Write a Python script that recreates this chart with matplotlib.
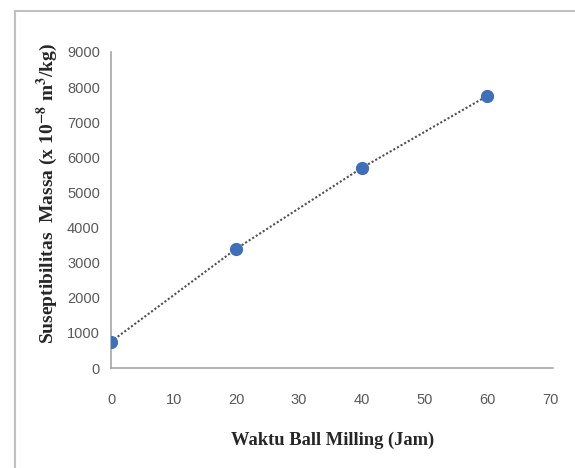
import matplotlib
matplotlib.use("Agg")
import matplotlib.pyplot as plt
from matplotlib.lines import Line2D

# data
waktu = [0, 20, 40, 60]                 # jam
suseptibilitas = [750, 3400, 5700, 7750]  # x 10^-8 m^3/kg
xticks = [0, 10, 20, 30, 40, 50, 60, 70]
yticks = [0, 1000, 2000, 3000, 4000, 5000, 6000, 7000, 8000, 9000]

plt.rcParams['mathtext.fontset'] = 'stix'
plt.rcParams['mathtext.default'] = 'bf'

W, H = 575, 468
fig = plt.figure(figsize=(W / 100, H / 100), dpi=100)
fig.patch.set_facecolor('white')

# axes box in pixel coords of the reference
x0, x1, ytop, ybot = 111, 550, 52, 368
ax = fig.add_axes([x0 / W, 1 - ybot / H, (x1 - x0) / W, (ybot - ytop) / H])

ax.plot(waktu, suseptibilitas, linestyle=(0, (1, 1)), color='#505050', linewidth=1.5, zorder=2)
ax.plot(waktu, suseptibilitas, linestyle='None', marker='o', markersize=8.5,
        color='#3f6fb8', zorder=3)

ax.set_xlim(0, 70)
ax.set_ylim(0, 9000)
ax.set_xticks(xticks)
ax.set_yticks(yticks)
ax.tick_params(length=0, labelsize=10.5, labelcolor='#595959', pad=8)
ax.tick_params(axis='x', pad=18)
for lab in ax.get_xticklabels() + ax.get_yticklabels():
    lab.set_family('Liberation Sans')

for s in ['top', 'right']:
    ax.spines[s].set_visible(False)
for s in ['left', 'bottom']:
    ax.spines[s].set_color('#a6a6a6')
    ax.spines[s].set_linewidth(1.2)
ax.spines['bottom'].set_bounds(0, 70.5)

fig.text(47 / W, 1 - 193 / H, r'Suseptibilitas  Massa (x 10$^{-8}$ m$^{3}$/kg)',
         rotation=90, ha='center', va='center', fontsize=14, fontweight='bold',
         family='Liberation Serif', color='#262626')
fig.text(333 / W, 1 - 440 / H, 'Waktu Ball Milling (Jam)', ha='center', va='center',
         fontsize=13.3, fontweight='bold', family='Liberation Serif', color='#262626')

# chart area border (only left and top edges fall inside the image)
fig.add_artist(Line2D([15 / W, 15 / W], [0, 1 - 11 / H], color='#c0c0c0', linewidth=1.5))
fig.add_artist(Line2D([15 / W, 1], [1 - 11 / H, 1 - 11 / H], color='#c0c0c0', linewidth=1.5))

fig.savefig('out.png', dpi=100)
